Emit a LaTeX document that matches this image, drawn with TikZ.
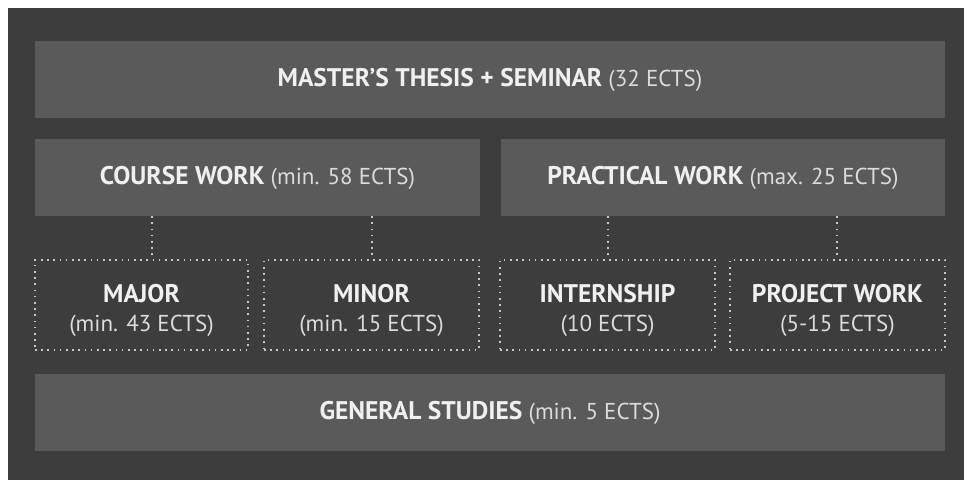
\documentclass[tikz,border=0pt]{standalone}
\usepackage{fontspec}
\setmainfont{PT Sans}
\usetikzlibrary{calc}
\definecolor{bgdark}{HTML}{3D3D3D}
\definecolor{boxgray}{HTML}{5A5A5A}
\definecolor{txtbold}{HTML}{F0F0F0}
\definecolor{txtreg}{HTML}{DCDCDC}
\definecolor{dotcol}{HTML}{C8C8C8}
\newcommand{\bt}[1]{{\fontsize{25.5}{29}\selectfont\bfseries\color{txtbold}#1}}
\newcommand{\rt}[1]{{\fontsize{23}{29}\selectfont\color{txtreg}#1}}
\begin{document}
\begin{tikzpicture}[x=1pt,y=-1pt,
  solidbox/.style={fill=boxgray, inner sep=0pt, font=\fontsize{23}{29}\selectfont, align=center},
  dotbox/.style={draw=dotcol, line width=1.6pt, dash pattern=on 1.6pt off 4.6pt, inner sep=0pt,
     minimum height=90pt},
  dottext/.style={yshift=-5pt, inner sep=0pt, align=center, font=\fontsize{23}{29}\selectfont},
  dotline/.style={draw=dotcol, line width=1.6pt, dash pattern=on 1.6pt off 4.6pt}]
\useasboundingbox (0,0) rectangle (964,480);
\fill[white] (0,0) rectangle (964,480);
\fill[bgdark] (8,8) rectangle (964,480);
\node[solidbox, minimum width=910pt, minimum height=77pt] (thesis) at (490,79.5)
  {\bt{MASTER’S THESIS + SEMINAR} \rt{(32 ECTS)}};
\node[solidbox, minimum width=445pt, minimum height=77pt] (course) at (257.5,177.5)
  {\bt{COURSE WORK} \rt{(min. 58 ECTS)}};
\node[solidbox, minimum width=444pt, minimum height=77pt] (practical) at (723,177.5)
  {\bt{PRACTICAL WORK} \rt{(max. 25 ECTS)}};
\node[dotbox, minimum width=213pt,
  label={[dottext]center:{\bt{MAJOR}\\\rt{(min. 43 ECTS)}}}] (major) at (141.5,305) {};
\node[dotbox, minimum width=215pt,
  label={[dottext]center:{\bt{MINOR}\\\rt{(min. 15 ECTS)}}}] (minor) at (371.5,305) {};
\node[dotbox, minimum width=215pt,
  label={[dottext]center:{\bt{INTERNSHIP}\\\rt{(10 ECTS)}}}] (intern) at (607.5,305) {};
\node[dotbox, minimum width=215pt,
  label={[dottext]center:{\bt{PROJECT WORK}\\\rt{(5-15 ECTS)}}}] (project) at (837.5,305) {};
\node[solidbox, minimum width=910pt, minimum height=77pt] (general) at (490,412.5)
  {\bt{GENERAL STUDIES} \rt{(min. 5 ECTS)}};
\coordinate (c1) at (152,0);
\coordinate (c2) at (372,0);
\coordinate (c3) at (608,0);
\coordinate (c4) at (837,0);
\draw[dotline] (course.south -| c1) -- (major.north -| c1);
\draw[dotline] (course.south -| c2) -- (minor.north -| c2);
\draw[dotline] (practical.south -| c3) -- (intern.north -| c3);
\draw[dotline] (practical.south -| c4) -- (project.north -| c4);
\end{tikzpicture}
\end{document}
